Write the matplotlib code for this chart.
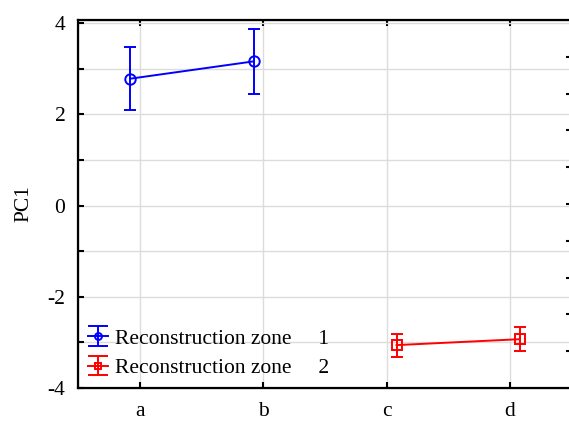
import matplotlib.pyplot as plt
from matplotlib.legend_handler import HandlerErrorbar
from matplotlib.lines import Line2D

plt.rcParams['font.family'] = ['Liberation Serif', 'DejaVu Serif']
plt.rcParams['axes.unicode_minus'] = False

groups = ['a', 'b', 'c', 'd']
zone1_x = [0, 1]
zone1_mean = [2.78, 3.16]
zone1_err = [0.69, 0.71]
zone2_x = [2, 3]
zone2_mean = [-3.06, -2.93]
zone2_err = [0.25, 0.26]
labels = ['Reconstruction zone     1', 'Reconstruction zone     2']

shift1 = -0.075
shift2 = 0.08
fs = 15.5

fig = plt.figure(figsize=(5.69, 4.21), dpi=100)
ax = fig.add_axes([0.137, 0.0784, 0.868, 0.8741])

ax.errorbar([x + shift1 for x in zone1_x], zone1_mean, yerr=zone1_err,
            color='blue', marker='o', mfc='none', ms=7.5, mew=1.4, lw=1.4,
            elinewidth=1.4, capsize=4.5, capthick=1.4, label=labels[0])
ax.errorbar([x + shift2 for x in zone2_x], zone2_mean, yerr=zone2_err,
            color='red', marker='s', mfc='none', ms=6.5, mew=1.4, lw=1.4,
            elinewidth=1.4, capsize=4.5, capthick=1.4, label=labels[1])

ax.set_xlim(-0.5, 3.5)
ax.set_ylim(-4, 4.066)
ax.set_xticks(range(len(groups)))
ax.set_xticklabels(groups)
ax.set_yticks([-4, -2, 0, 2, 4])
ax.set_yticks([-3, -1, 1, 3], minor=True)
ax.set_ylabel('PC1', fontsize=fs, labelpad=10)

ax.grid(True, which='both', color='#dcdcdc', lw=1)
ax.set_axisbelow(True)
ax.tick_params(which='both', direction='in', length=4.5, width=1.5,
               labelsize=fs, top=True, pad=9, colors='black')
ax.tick_params(axis='x', pad=10)
for s in ['left', 'top', 'bottom']:
    ax.spines[s].set_linewidth(1.6)

ax2 = ax.twinx()
ax2.set_ylim(0, 10)
ax2.set_yticks(range(1, 10))
ax2.set_yticklabels([])
ax2.tick_params(direction='in', length=4.5, width=1.5)
ax2.spines['right'].set_linewidth(1.6)


def legend_props(new, orig):
    new.update_from(orig)
    if isinstance(new, Line2D):
        if orig.get_marker() == '_':
            new.set_markersize(14)
        elif orig.get_marker() in ('o', 's'):
            new.set_markersize(5)


ax.legend(loc='lower left', frameon=False, fontsize=fs, handlelength=0.95,
          handletextpad=0.3, labelspacing=0.45, borderaxespad=0.05,
          borderpad=0.4,
          handler_map={type(ax.containers[0]): HandlerErrorbar(
              xerr_size=0.5, yerr_size=0.45, update_func=legend_props)})

fig.savefig('out.png', dpi=100)
